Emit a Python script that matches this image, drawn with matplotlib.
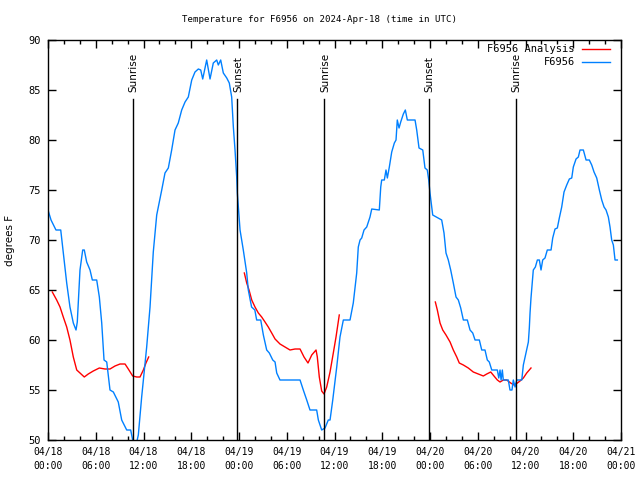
import numpy as np
import matplotlib.pyplot as plt

# hours since 2024-04-18 00:00 UTC
obs_hours = [0.0, 0.38, 1.0, 1.6, 1.92, 2.35, 2.76, 3.18, 3.52, 3.68, 4.02, 4.36, 4.56, 4.86,
             5.28, 5.57, 6.12, 6.45, 6.75, 7.04, 7.38, 7.79, 8.21, 8.83, 9.26, 9.89, 10.39,
             10.64, 10.93, 11.35, 11.77, 12.40, 12.82, 13.23, 13.66, 14.29, 14.70, 15.12,
             15.54, 15.96, 16.37, 16.80, 17.22, 17.63, 18.06, 18.47, 18.89, 19.19, 19.44,
             19.94, 20.36, 20.77, 21.20, 21.40, 21.70, 22.03, 22.46, 22.78, 23.08, 23.29,
             23.50, 23.71, 23.79, 24.13, 24.54, 24.97, 25.17, 25.58, 25.99, 26.22, 26.73,
             27.06, 27.48, 27.81, 28.24, 28.53, 28.74, 29.15, 31.67, 32.08, 32.51, 32.92,
             33.76, 33.97, 34.39, 34.81, 35.22, 35.44, 35.78, 36.28, 36.69, 37.11, 37.95,
             38.36, 38.79, 38.99, 39.21, 39.42, 39.71, 40.05, 40.46, 40.68, 41.63, 41.81,
             41.93, 42.26, 42.47, 42.64, 42.89, 43.19, 43.52, 43.73, 43.89, 44.11, 44.32,
             44.65, 44.90, 45.15, 46.12, 46.33, 46.62, 47.09, 47.37, 47.66, 47.84, 48.0,
             48.34, 49.47, 49.76, 50.01, 50.30, 50.60, 50.93, 51.27, 51.56, 51.86, 52.19,
             52.69, 53.03, 53.37, 53.66, 54.20, 54.50, 54.91, 55.20, 55.45, 55.76, 56.46,
             56.64, 56.80, 56.93, 57.09, 57.21, 57.84, 58.05, 58.30, 58.47, 58.69, 58.90,
             59.53, 59.73, 60.15, 60.36, 60.48, 60.57, 60.69, 60.82, 60.98, 61.24, 61.49,
             61.74, 61.95, 62.16, 62.45, 62.74, 63.21, 63.42, 63.71, 64.0, 64.25, 64.55,
             64.84, 65.18, 65.51, 65.81, 66.01, 66.35, 66.64, 66.85, 67.27, 67.61, 68.02,
             68.32, 68.61, 68.95, 69.28, 69.58, 69.87, 70.12, 70.41, 70.62, 70.83, 71.04,
             71.25, 71.54]
obs_temp = [73, 72, 71, 71, 68.7, 65.7, 63.3, 61.7, 61, 61.8, 67, 69, 69, 67.8,
            67, 66, 66, 64.3, 61.7, 58, 57.8, 55, 54.8, 53.8, 52, 51, 51,
            50, 49, 50.5, 54.3, 59.3, 63.3, 68.8, 72.5, 75, 76.7, 77.2,
            79, 81, 81.7, 83, 83.8, 84.3, 86, 86.8, 87.1, 87, 86.1,
            88, 86.1, 87.7, 88, 87.5, 88, 86.7, 86.2, 85.7, 84.3, 81.3,
            79, 76.3, 74.7, 71, 69, 66.7, 65, 63.3, 63, 62, 62,
            60.5, 59, 58.7, 58, 57.8, 56.7, 56, 56, 55, 54, 53,
            53, 52, 51, 51.2, 52, 52, 54, 57.3, 60.3, 62, 62,
            63.7, 66.7, 69.3, 70, 70.2, 71, 71.3, 72.3, 73.1, 73, 75.3,
            76, 76, 77, 76.2, 77.3, 78.8, 79.7, 80, 82, 81.2, 81.8,
            82.6, 83, 82, 82, 81, 79.2, 79, 77.2, 77, 76, 74.7,
            72.5, 72, 70.7, 68.7, 68, 67, 65.7, 64.3, 64, 63.2, 62,
            62, 61, 60.7, 60, 60, 59, 59, 58, 57.8, 57, 57,
            56.2, 57, 56, 57, 56, 56, 55, 55, 56, 55.3, 56,
            56, 57.5, 59, 59.8, 61.2, 62.7, 64.2, 65.5, 67, 67.3, 68,
            68, 67, 68, 68.2, 69, 69, 70.2, 71.1, 71.2, 72.2, 73.3,
            74.8, 75.5, 76.1, 76.2, 77.3, 78.1, 78.3, 79, 79, 78, 78,
            77.5, 76.8, 76.2, 75, 74, 73.3, 73, 72.3, 71.3, 70, 69.5,
            68, 68]

nan = np.nan
ana_hours = [0.54, 1.09, 1.51, 1.92, 2.35, 2.76, 3.18, 3.61, 4.02, 4.56, 5.06, 5.69, 6.45,
             7.16, 7.79, 8.42, 9.05, 9.68, 10.09, 10.64, 11.15, 11.56, 11.98, 12.31, 12.65,
             12.7,
             24.67, 24.97, 25.26, 25.60, 26.01, 26.43, 26.85, 27.27, 27.68, 28.11, 28.53,
             29.15, 29.78, 30.41, 31.04, 31.67, 32.17, 32.67, 33.14, 33.68, 33.84, 34.09,
             34.39, 34.68, 35.02, 35.44, 35.85, 36.19, 36.60,
             36.7,
             48.67, 48.92, 49.26, 49.60, 50.01, 50.52, 50.93, 51.36, 51.68, 52.19, 52.81,
             53.44, 54.07, 54.70, 55.13, 55.63, 56.04, 56.46, 56.80, 57.21, 57.64, 58.14,
             58.56, 58.98, 59.31, 59.73, 60.15, 60.69]
ana_temp = [64.8, 64, 63.3, 62.3, 61.3, 60, 58.3, 57, 56.7, 56.3, 56.6, 56.9, 57.2,
            57.1, 57.1, 57.4, 57.6, 57.6, 57.1, 56.4, 56.3, 56.3, 57, 57.7, 58.3,
            nan,
            66.7, 65.7, 65, 64, 63.3, 62.7, 62.3, 61.8, 61.3, 60.7, 60.1,
            59.6, 59.3, 59, 59.1, 59.1, 58.3, 57.7, 58.5, 59, 58.3, 56.3,
            54.9, 54.6, 55.3, 56.8, 58.7, 60.3, 62.5,
            nan,
            63.8, 63, 61.7, 61, 60.5, 59.8, 59, 58.3, 57.7, 57.5, 57.2,
            56.8, 56.6, 56.4, 56.6, 56.8, 56.4, 56, 55.8, 56, 56, 55.7,
            55.5, 55.7, 55.9, 56.2, 56.7, 57.2]

sun_hours = [10.68, 23.78, 34.7, 47.86, 58.8]
sun_labels = ["Sunrise", "Sunset", "Sunrise", "Sunset", "Sunrise"]

tick_hours = np.arange(0, 73, 6)
tick_labels = ["04/18\n00:00", "04/18\n06:00", "04/18\n12:00", "04/18\n18:00",
               "04/19\n00:00", "04/19\n06:00", "04/19\n12:00", "04/19\n18:00",
               "04/20\n00:00", "04/20\n06:00", "04/20\n12:00", "04/20\n18:00",
               "04/21\n00:00"]

mono = "DejaVu Sans Mono"
fig = plt.figure(figsize=(6.4, 4.8), dpi=100)
ax = fig.add_axes([48 / 640, 40 / 480, 573 / 640, 400 / 480])

ax.plot(ana_hours, ana_temp, color="#ff0000", lw=1)
ax.plot(obs_hours, obs_temp, color="#0080ff", lw=1)

for h, lab in zip(sun_hours, sun_labels):
    ax.plot([h, h], [50, 84.05], color="black", lw=1)
    ax.text(h + 0.1, 84.75, lab, rotation=90, ha="center", va="bottom", fontsize=7.5)

ax.set_xlim(0, 72)
ax.set_ylim(50, 90)
ax.set_xticks(tick_hours)
ax.set_xticklabels(tick_labels, fontfamily=mono, fontsize=7, linespacing=1.5)
ax.set_xticks(np.arange(0, 73, 2), minor=True)
ax.set_yticks(np.arange(50, 91, 5))
ax.set_yticklabels([str(v) for v in range(50, 91, 5)], fontfamily=mono, fontsize=7.5)
ax.tick_params(direction="in", top=True, right=True, length=6, width=1, pad=5)
ax.tick_params(which="minor", direction="in", top=True, length=3, width=1)
for s in ax.spines.values():
    s.set_linewidth(1)

ax.set_ylabel("degrees F", fontsize=7.5, labelpad=10)
# gnuplot centres the title on the whole canvas
fig.text(0.5, 1 - 19 / 480, "Temperature for F6956 on 2024-Apr-18 (time in UTC)",
         ha="center", va="center", fontfamily=mono, fontsize=6.6)

# legend, gnuplot style: right aligned text then line sample
leg_names = ["F6956 Analysis", "F6956"]
leg_colors = ["#ff0000", "#0080ff"]
for i, (name, c) in enumerate(zip(leg_names, leg_colors)):
    yy = 0.9775 - i * 0.0325
    ax.text(0.9197, yy, name, transform=ax.transAxes, ha="right", va="center",
            fontfamily=mono, fontsize=7.5)
    ax.plot([0.932, 0.981], [yy, yy], transform=ax.transAxes, color=c, lw=1)

fig.savefig("out.png", dpi=100)
